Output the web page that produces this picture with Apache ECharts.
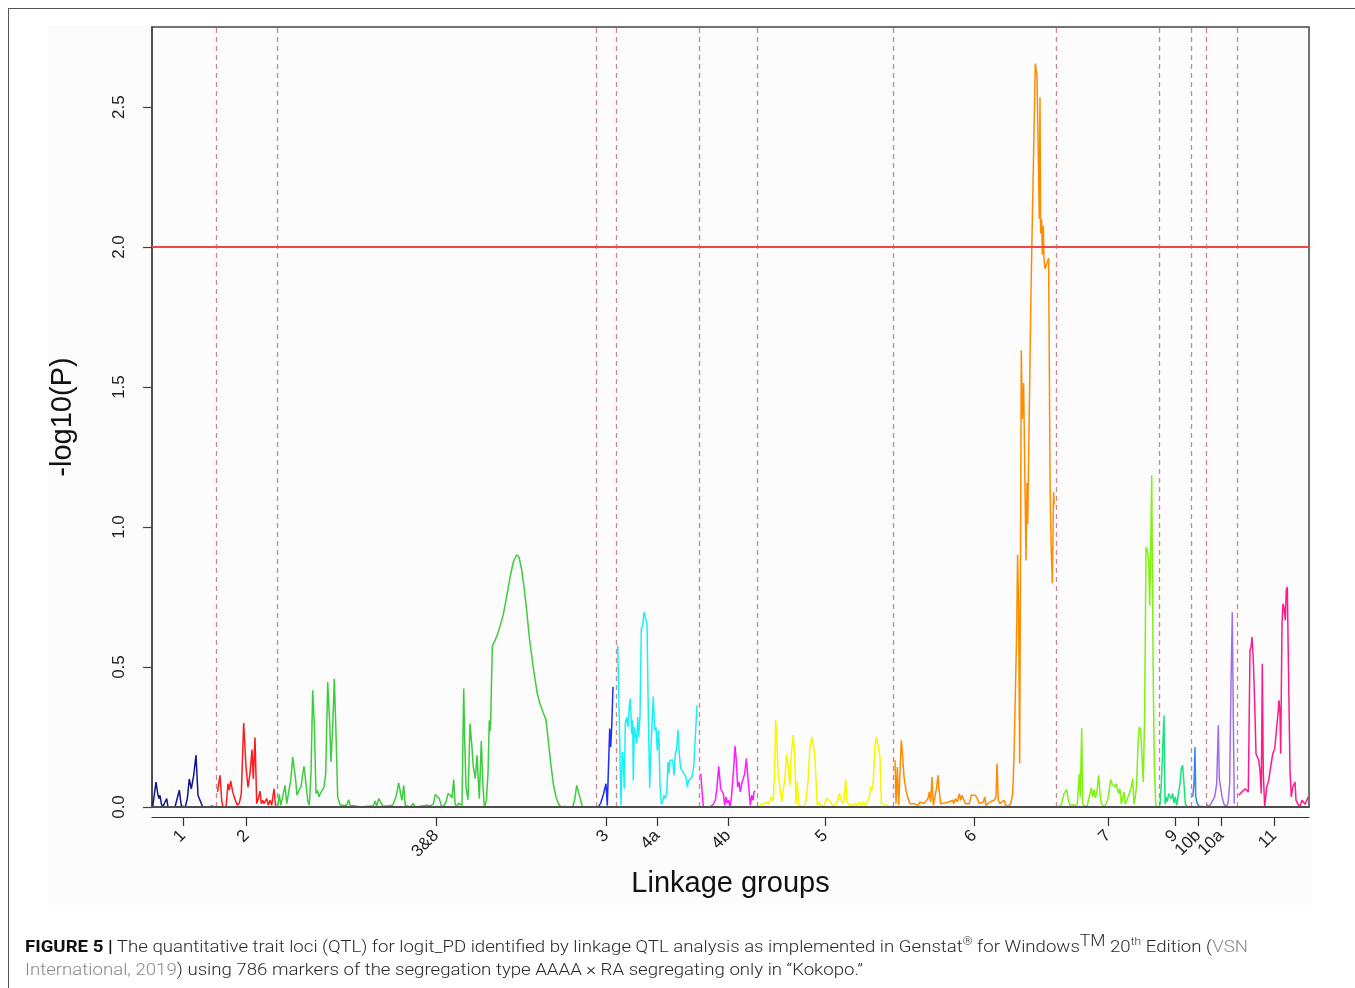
<!DOCTYPE html>
<html><head><meta charset="utf-8">
<script src="https://cdn.jsdelivr.net/npm/echarts@6/dist/echarts.min.js"></script>
<style>
html,body{margin:0;padding:0;background:#fff;width:1355px;height:988px;overflow:hidden;}
#frame{position:absolute;left:8px;top:8px;width:1400px;height:1000px;border-left:1.5px solid #555;border-top:1.5px solid #555;}
#plotbg{position:absolute;left:48px;top:25px;width:1265px;height:880px;background:#fcfcfc;}
#chart{position:absolute;left:0;top:0;width:1355px;height:988px;}
#caption{position:absolute;left:25px;top:935px;font-family:Roboto,'Liberation Sans',sans-serif;font-weight:300;font-size:17px;color:#2a2a2a;line-height:23px;}
#caption .ln{white-space:nowrap;transform-origin:0 0;display:block;width:max-content;}
#caption b{font-weight:700;color:#111;}
#caption .g{color:#8a8a8a;}
#caption sup{line-height:0;font-size:11px;vertical-align:7px;}
#caption sup.tm{font-size:16px;vertical-align:6px;}
</style></head>
<body>
<div id="frame"></div>
<div id="plotbg"></div>
<div id="chart"></div>
<div id="caption">
<span class="ln" id="l1"><b>FIGURE 5 |</b> The quantitative trait loci (QTL) for logit_PD identified by linkage QTL analysis as implemented in Genstat<sup>®</sup> for Windows<sup class="tm">TM</sup> 20<sup>th</sup> Edition (<span class="g">VSN</span></span>
<span class="ln" id="l2"><span class="g">International, 2019</span>) using 786 markers of the segregation type AAAA × RA segregating only in “Kokopo.”</span>
</div>
<script>
// ---- axis / group definitions ----
const lgNames  = ['1','2','3&8','3','4a','4b','5','6','7','9','10b','10a','11'];
const lgTicks  = [31, 94.5, 284, 454, 505, 576, 673, 822, 956, 1023, 1046, 1069, 1122];
const lgBounds = [64, 125, 444, 464, 547, 605, 741, 904, 1007, 1039, 1054, 1085];
const lgColors = ['#13138a','#ff1a1a','#3ccc3c','#1f2ff0','#19f0f5','#ff1aff','#f7f700','#ff8c00','#7ff20f','#14e57a','#2a8cf0','#a06ee8','#ff1a8c'];
const yTicks = [0, 0.5, 1.0, 1.5, 2.0, 2.5];
const threshold = 2.0;
const xMax = 1157;
const yMax = 2.786;
const annotation = [[885.3, 1.113]];

// ---- series values: [position, -log10(P)] ----
const lg1 = [[0.7,0],[4,0.089],[6,0.042],[7,0.03],[8,0.042],[9.3,0.012],[10.7,0],[12.7,0],[14.7,0.03],[16,0],[23,0],[27.3,0.06],[29.3,0.004],[31.3,0.006],[33.3,0],[35.3,0.03],[37.3,0.1],[39.3,0.065],[41.7,0.113],[44,0.185],[46,0.042],[47.3,0.048],[48.7,0.018],[50.7,0],[56,0],[57.3,0.004],[61.3,0.004]];
const lg2 = [[65.5,0.054],[68,0.113],[69.7,0.024],[71,0],[74,0],[76,0.083],[77.3,0.06],[78.7,0.093],[80.7,0.054],[82.7,0.03],[85.3,0.006],[87.3,0.014],[89.3,0.048],[91.7,0.30],[94,0.143],[96,0.071],[98,0.119],[100,0.205],[101.3,0.10],[103,0.248],[104.7,0.012],[106.3,0.03],[108,0.057],[109.3,0.012],[110.7,0.024],[112,0.012],[113.3,0.018],[114.7,0.03],[116.3,0.006],[118,0.024],[119.7,0.006],[120.7,0.012],[122,0.065],[123.7,0]];
const lg38 = [[125.7,0],[127.3,0.045],[128.7,0.006],[130.7,0.036],[133,0.077],[134.7,0.012],[136.7,0.006],[138.7,0.095],[140.7,0.179],[142,0.176],[143.7,0.095],[145,0.042],[147,0.06],[149,0.071],[150.3,0.107],[152,0.145],[154,0.083],[155.7,0.024],[157.3,0.006],[159,0.119],[160.7,0.417],[162.3,0.298],[164,0.048],[165.3,0.06],[167,0.036],[168.3,0.048],[170,0.054],[172,0.071],[173.7,0.119],[175.7,0.446],[177.7,0.298],[179,0.161],[180.7,0.286],[182.3,0.458],[184,0.262],[185.7,0.036],[187,0.038],[188.3,0.006],[190.3,0],[194.7,0.006],[196.7,0.026],[198,0.006],[200,0],[209.7,0],[218,0.004],[221.3,0.004],[223,0.021],[224.7,0.004],[226.7,0.03],[228.7,0.024],[230.7,0.004],[234.7,0.004],[240.7,0.006],[244,0.036],[246.7,0.086],[248.7,0.045],[250,0.024],[251.7,0.077],[253.3,0.006],[258,0],[261.3,0.012],[263.3,0],[269.7,0.004],[274.7,0.006],[278,0.004],[281.3,0.01],[283.3,0.045],[285.3,0.05],[287.3,0.03],[289.7,0],[292,0.006],[294,0.018],[296,0.048],[298.3,0.042],[300,0.033],[301.7,0.098],[303,0.012],[304.7,0],[306.7,0.014],[308.7,0.012],[310,0.006],[311.7,0.423],[312.7,0.238],[314,0.071],[316,0.026],[318,0.298],[319.7,0.226],[321.3,0.143],[323.3,0.101],[325,0.185],[326.3,0.095],[327.3,0.03],[329.3,0.236],[330.7,0.095],[332.3,0],[334.3,0.021],[336,0.119],[337.3,0.31],[338,0.271],[338.7,0.31],[340.3,0.574],[343,0.595],[345.3,0.615],[348,0.645],[351.3,0.688],[354.7,0.752],[358,0.819],[361.3,0.875],[364.7,0.901],[367,0.893],[369.7,0.848],[372,0.786],[374.7,0.702],[377.3,0.607],[380,0.533],[382.7,0.464],[385.3,0.405],[388,0.369],[391.3,0.336],[394,0.312],[396.3,0.238],[398.7,0.157],[401.3,0.083],[404,0.036],[406.7,0.01],[409,0],[413,0.002],[416.3,0],[420.7,0],[422.7,0.026],[424.7,0.077],[426.7,0.074],[428.3,0.03],[430.3,0.002],[433,0],[441.3,0]];
const lg3 = [[446.3,0],[448.7,0.014],[451.3,0.044],[454,0.083],[455.3,0.005],[456.7,0.167],[457.7,0.28],[458.7,0.214],[459.7,0.286],[461,0.429]];
const lg4a = [[465.7,0.577],[467.3,0.31],[469,0.006],[470.3,0.196],[471.3,0.167],[472.3,0.065],[473.3,0.298],[474.7,0.321],[476,0.286],[477.3,0.357],[478.3,0.387],[479.7,0.262],[480.7,0.31],[481.3,0.095],[482.3,0.286],[483.7,0.28],[484.7,0.226],[485.7,0.321],[486.7,0.25],[488,0.324],[489.3,0.637],[490.7,0.649],[492,0.696],[493.7,0.696],[495,0.655],[496.3,0.333],[497.7,0.069],[499,0.214],[501.3,0.395],[502.7,0.274],[504,0.286],[505.3,0.202],[506.7,0.274],[508,0.083],[509.3,0.01],[510.7,0.018],[512,0.042],[513.3,0.03],[514.7,0.048],[516,0.161],[517,0.119],[518,0.167],[519.3,0.161],[520.7,0.167],[522,0.113],[523.3,0.19],[524.7,0.208],[526,0.276],[527.3,0.19],[528.7,0.137],[530,0.131],[532,0.119],[534,0.107],[535.3,0.071],[536.7,0.095],[538.3,0.089],[540,0.107],[541.7,0.143],[543.3,0.25],[545,0.363]];
const lg4b = [[548.7,0.119],[550,0.06],[551.3,0.002],[554,0],[558,0],[561.3,0.01],[563.3,0.024],[564.7,0.06],[566.7,0.145],[568.7,0.065],[570,0.06],[571.3,0.048],[572.7,0.006],[574,0.036],[575.3,0.014],[576.7,0.024],[578,0],[579.3,0.03],[581.3,0.119],[583,0.218],[584.3,0.167],[585.7,0.071],[587,0.089],[588.3,0.054],[589.7,0.083],[591,0.081],[592.7,0.119],[594.3,0.173],[595.7,0.167],[597,0.06],[598.3,0.006],[599.7,0.042],[601,0.024],[602,0.054],[603.3,0.057]];
const lg5 = [[608,0.01],[610,0.012],[611.3,0.01],[613.3,0.014],[614.7,0.018],[616.3,0.01],[618,0.024],[619.7,0.036],[621.3,0.021],[622.7,0.143],[623.7,0.312],[624.7,0.25],[626,0.121],[628,0.119],[629.7,0.018],[631.3,0.024],[633,0.107],[634.7,0.19],[636.3,0.143],[638,0.077],[639.3,0.19],[641.3,0.256],[642.7,0.179],[644,0.012],[645.3,0.089],[646.7,0.006],[648.7,0],[652,0],[654,0.024],[656,0.089],[658,0.214],[660,0.25],[661.3,0.25],[662.7,0.19],[664,0.095],[665.3,0.006],[667.3,0.018],[669.3,0],[672,0.006],[674.7,0.03],[676.7,0.036],[678.7,0.018],[680.7,0.002],[683.3,0.01],[685.3,0.018],[687.3,0.048],[689.3,0.05],[690.7,0.012],[692,0.024],[693.7,0.098],[695,0.018],[696.7,0.01],[698.7,0.014],[700.7,0.006],[703,0.012],[705.3,0.006],[707.3,0.018],[709.3,0.006],[711.3,0.018],[713.3,0.005],[715.3,0.018],[717.3,0.036],[718.7,0.071],[720,0.06],[721.3,0.095],[723,0.226],[724.7,0.25],[726.7,0.252],[728,0.179],[729.3,0.014],[731.3,0.01],[734,0.006],[737.3,0.002]];
const lg6 = [[743,0.167],[744,0.012],[745.3,0.143],[746.7,0.006],[749.3,0.238],[750.7,0.179],[752,0.107],[754,0.06],[756,0.03],[758,0.012],[760,0.006],[762,0.012],[764,0.018],[766,0.006],[768,0.018],[770,0.024],[772,0.012],[774,0.006],[776,0.03],[777.3,0.054],[778.7,0.018],[780,0.107],[781.3,0.006],[783.3,0.012],[784.7,0.071],[786,0.113],[787.3,0.054],[788.7,0.012],[790.7,0.006],[792.7,0.014],[794.7,0.01],[796.7,0.018],[798.7,0.012],[800.7,0.024],[802,0.012],[803.3,0.03],[805.3,0.018],[807.3,0.048],[808.7,0.024],[810,0.042],[811.3,0.048],[813.3,0.012],[815.3,0.006],[817.3,0.012],[819.3,0.042],[821.3,0.036],[823.3,0.042],[825.3,0.03],[827.3,0.012],[829.3,0.006],[831.3,0.018],[832.7,0.036],[834,0.006],[836,0.012],[838,0.018],[840,0.012],[842,0.024],[844,0.036],[845,0.155],[846.3,0.024],[848,0.012],[850,0.018],[852,0.024],[854,0.006],[856.3,0.002],[858.7,0.012],[860.7,0.048],[862,0.179],[863.3,0.393],[864.7,0.631],[865.6,0.901],[866.6,0.70],[867.7,0.155],[869.3,1.631],[870.3,1.386],[871.6,1.514],[873,1.516],[874,0.881],[875,1.157],[875.7,1.012],[879,1.845],[883.3,2.655],[885,2.611],[886.3,2.611],[887.3,2.1],[888,2.534],[888.6,2.049],[889.6,2.1],[890.3,1.973],[891.3,2.075],[892,1.96],[893,1.922],[895,1.922],[896.6,1.96],[897.3,1.59],[898,1.182],[899,0.952],[900.3,0.799],[901.6,1.124],[902.3,1.08]];
const lg7 = [[907.3,0.002],[909.7,0.012],[912,0.048],[914.7,0.062],[916.7,0.018],[918.7,0.002],[920.7,0.01],[922.7,0.002],[925.3,0.012],[927.3,0.119],[928.3,0.036],[929.7,0.28],[930.7,0.012],[932.7,0.002],[935.3,0.006],[937.3,0.012],[939.3,0.069],[940.7,0.036],[942,0.062],[943.3,0.033],[944.7,0.048],[946.7,0.113],[948,0.048],[949.3,0.012],[952,0.002],[954,0.01],[956,0.03],[957.3,0.036],[958.7,0.098],[960,0.083],[961.3,0.089],[962.7,0.071],[964,0.083],[965.3,0.089],[966.7,0.048],[968,0.065],[969.3,0.01],[970.7,0.012],[972,0.054],[973.3,0.01],[975.3,0.006],[976.7,0.042],[978,0.036],[979.3,0.071],[980.7,0.101],[982,0.01],[983.3,0.036],[984.7,0.083],[986,0.226],[987.3,0.286],[988.7,0.274],[990,0.179],[991.3,0.089],[992.7,0.345],[994,0.929],[995.3,0.917],[996.7,0.881],[997.7,0.72],[998.7,0.917],[999.7,1.185],[1000.3,1.19],[1001.3,0.44],[1002.3,0.155],[1003.7,0.012],[1004.7,0.002]];
const lg9 = [[1008,0.006],[1009.3,0.083],[1010.7,0.089],[1012,0.327],[1013,0.01],[1014,0.036],[1015.3,0.018],[1016.7,0.048],[1018,0.05],[1019.3,0.03],[1020.7,0.048],[1022,0.014],[1023.3,0.036],[1024.7,0.006],[1026.3,0.01],[1028,0.083],[1029.3,0.137],[1030.7,0.149],[1032,0.083],[1033.3,0.012],[1034.7,0.002]];
const lg10b = [[1040.7,0.036],[1042,0.083],[1043,0.214],[1043.7,0.036],[1045.3,0.012],[1047.3,0.002],[1050.7,0.002]];
const lg10a = [[1054.7,0.01],[1056.7,0.002],[1058.7,0.01],[1060.7,0.006],[1062.7,0.036],[1064.7,0.083],[1066.3,0.292],[1067.3,0.101],[1068.3,0.095],[1070,0.036],[1072,0.01],[1074,0.002],[1076,0.012],[1077.7,0.083],[1079,0.44],[1080.3,0.696],[1081.3,0.321],[1082.3,0.012]];
const lg11 = [[1086.7,0.042],[1090,0.054],[1093.3,0.065],[1096.3,0.054],[1098,0.56],[1099,0.571],[1100,0.607],[1101.3,0.524],[1102.7,0.369],[1104,0.19],[1105.3,0.185],[1106.7,0.167],[1108,0.131],[1109.3,0.048],[1110.3,0.512],[1111.3,0.119],[1112.7,0.002],[1114.7,0.071],[1116.7,0.095],[1118.7,0.143],[1120.7,0.19],[1122.7,0.208],[1124.7,0.208],[1126,0.333],[1127,0.381],[1128,0.333],[1128.7,0.19],[1130,0.655],[1131,0.726],[1132,0.714],[1133.3,0.667],[1134.3,0.774],[1135.3,0.786],[1136.7,0.44],[1138,0.131],[1139.3,0.036],[1140.7,0.071],[1143,0.089],[1144,0.024],[1146,0.01],[1148,0.002],[1150,0.024],[1151.3,0.03],[1153,0.01],[1154.7,0.014],[1156.3,0.036]];

const lgData = [lg1, lg2, lg38, lg3, lg4a, lg4b, lg5, lg6, lg7, lg9, lg10b, lg10a, lg11];

// ---- chart ----
const FONT = "'Liberation Sans', Arial, Helvetica, sans-serif";
const chart = echarts.init(document.getElementById('chart'), null, {renderer: 'canvas'});

const series = lgData.map((d, i) => ({
  type: 'line', name: lgNames[i], data: d, showSymbol: false, symbol: 'none',
  lineStyle: {color: lgColors[i], width: 1.5}, itemStyle: {color: lgColors[i]},
  z: 3, animation: false, silent: true
}));
series.push({
  type: 'line', data: [], z: 2, silent: true, animation: false,
  markLine: {
    silent: true, symbol: ['none', 'none'], animation: false, label: {show: false},
    data: lgBounds.map(b => ({xAxis: b, lineStyle: {color: '#c48c8c', width: 1.3, type: [5, 4]}}))
  }
});
series.push({
  type: 'line', data: [], z: 4, silent: true, animation: false,
  markLine: {
    silent: true, symbol: ['none', 'none'], animation: false, label: {show: false},
    data: [{yAxis: threshold, lineStyle: {color: '#f04848', width: 1.8, type: 'solid'}}]
  }
});
series.push({
  type: 'scatter', data: annotation, symbolSize: 1, itemStyle: {opacity: 0}, silent: true, animation: false, z: 5,
  label: {show: true, position: 'inside', formatter: '1', color: '#ff8c00', fontSize: 10, fontFamily: FONT}
});

chart.setOption({
  animation: false,
  backgroundColor: 'transparent',
  grid: {left: 152, right: 46, top: 27, bottom: 181, show: true, borderColor: '#444', borderWidth: 1.5, backgroundColor: 'transparent'},
  xAxis: [{
    type: 'value', min: 0, max: xMax, position: 'bottom', offset: 10,
    axisLine: {show: true, onZero: false, lineStyle: {color: '#333', width: 1.2}},
    axisTick: {show: true, length: 9, customValues: lgTicks, lineStyle: {color: '#333', width: 1.2}},
    axisLabel: {show: true, rotate: 45, margin: 16, fontSize: 17, color: '#222', fontFamily: FONT,
      customValues: lgTicks, hideOverlap: false,
      formatter: v => { const i = lgTicks.indexOf(v); return i >= 0 ? lgNames[i] : ''; }},
    splitLine: {show: false},
    name: 'Linkage groups', nameLocation: 'middle', nameGap: 52,
    nameTextStyle: {fontSize: 29, color: '#111', fontFamily: FONT}
  }, {
    type: 'value', min: 0, max: xMax, position: 'bottom', offset: 0, z: 10,
    axisLine: {show: true, onZero: false, lineStyle: {color: '#4d4d4d', width: 2}},
    axisTick: {show: false}, axisLabel: {show: false}, splitLine: {show: false}
  }],
  yAxis: {
    type: 'value', min: 0, max: yMax,
    axisLine: {show: true, lineStyle: {color: '#444', width: 1.5}},
    axisTick: {show: true, length: 9, customValues: yTicks, lineStyle: {color: '#444', width: 1.2}},
    axisLabel: {customValues: yTicks, rotate: 90, margin: 24, fontSize: 17, color: '#222', fontFamily: FONT,
      formatter: v => v.toFixed(1)},
    splitLine: {show: false},
    name: '-log10(P)', nameLocation: 'middle', nameGap: 75,
    nameTextStyle: {fontSize: 29, color: '#111', fontFamily: FONT}
  },
  series: series
});

// fit caption line widths to the figure text block
(function () {
  const l1 = document.getElementById('l1'), l2 = document.getElementById('l2');
  const s = 1223 / l1.getBoundingClientRect().width;
  l1.style.transform = 'scaleX(' + s + ')';
  l2.style.transform = 'scaleX(' + s + ')';
})();
</script>
</body></html>
